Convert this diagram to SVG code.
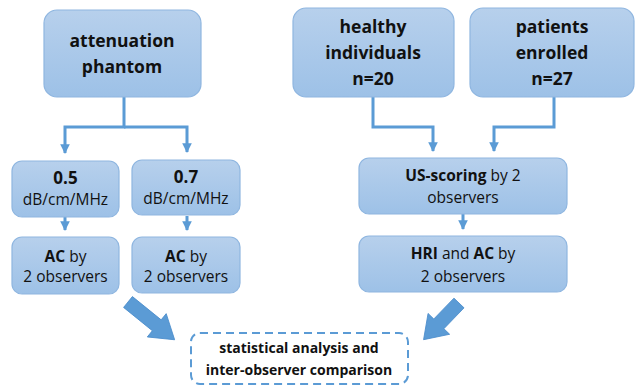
<svg xmlns="http://www.w3.org/2000/svg" width="635" height="386" viewBox="0 0 635 386">
<defs>
<linearGradient id="g" x1="0" y1="0" x2="0" y2="1">
<stop offset="0" stop-color="#b7d0ec"/>
<stop offset="1" stop-color="#9dc1e7"/>
</linearGradient>
<marker id="ah" viewBox="0 0 10 10" refX="9" refY="5" markerWidth="3.2" markerHeight="3.2" orient="auto" markerUnits="strokeWidth">
<path d="M0 0 L10 5 L0 10 Z" fill="#5b9bd5"/>
</marker>
<style>
.box{fill:url(#g);stroke:#8fb6e0;stroke-width:1.2}
.t{font-family:"Open Sans","Liberation Sans",sans-serif;fill:#111;text-anchor:middle}
.b{font-weight:bold}
.big{font-size:17.5px;font-weight:bold}
.s{font-size:15.5px}
.c{fill:none;stroke:#5b9bd5;stroke-width:3}
.blk{fill:#5b9bd5;stroke:#4a8ccb;stroke-width:0.8}
</style>
</defs>
<rect width="635" height="386" fill="#fff"/>
<g id="connectors">
<path class="c" d="M124 97 V127 H65 V153" marker-end="url(#ah)"/>
<path class="c" d="M124 127 H187 V152" marker-end="url(#ah)"/>
<path class="c" d="M65 217 V230" marker-end="url(#ah)"/>
<path class="c" d="M187 216 V230" marker-end="url(#ah)"/>
<path class="c" d="M373 97 V127 H433 V151" marker-end="url(#ah)"/>
<path class="c" d="M554 97 V127 H494 V151" marker-end="url(#ah)"/>
<path class="c" d="M463 214 V229" marker-end="url(#ah)"/>
<polygon class="blk" transform="translate(128 302) rotate(39)" points="0,-7 37,-7 37,-15 60,0 37,15 37,7 0,7"/>
<polygon class="blk" transform="translate(459 303) rotate(134)" points="0,-7 29,-7 29,-15 51,0 29,15 29,7 0,7"/>
</g>
<g id="n-attenuation">
<rect class="box" x="44" y="10" width="157" height="87" rx="13"/>
<text class="t big" x="122" y="47">attenuation</text>
<text class="t big" x="122" y="73">phantom</text>
</g>
<g id="n-healthy">
<rect class="box" x="293" y="8" width="161" height="89" rx="13"/>
<text class="t big" x="373" y="33">healthy</text>
<text class="t big" x="373" y="59">individuals</text>
<text class="t big" x="373" y="85">n=20</text>
</g>
<g id="n-patients">
<rect class="box" x="470" y="8" width="164" height="89" rx="13"/>
<text class="t big" x="552" y="33">patients</text>
<text class="t big" x="552" y="59">enrolled</text>
<text class="t big" x="552" y="85">n=27</text>
</g>
<g id="n-05">
<rect class="box" x="12" y="161" width="107" height="56" rx="10"/>
<text class="t b" x="65.5" y="184" font-size="17">0.5</text>
<text class="t s" x="65.5" y="205">dB/cm/MHz</text>
</g>
<g id="n-07">
<rect class="box" x="132" y="160" width="108" height="55" rx="10"/>
<text class="t b" x="186" y="183" font-size="17">0.7</text>
<text class="t s" x="186" y="204">dB/cm/MHz</text>
</g>
<g id="n-ac1">
<rect class="box" x="12" y="237" width="107" height="57" rx="10"/>
<text class="t s" x="65.5" y="262"><tspan class="b">AC</tspan> by</text>
<text class="t s" x="65.5" y="282">2 observers</text>
</g>
<g id="n-ac2">
<rect class="box" x="132" y="237" width="108" height="56" rx="10"/>
<text class="t s" x="186" y="262"><tspan class="b">AC</tspan> by</text>
<text class="t s" x="186" y="282">2 observers</text>
</g>
<g id="n-us">
<rect class="box" x="359" y="158" width="208" height="56" rx="10"/>
<text class="t s" x="463" y="181" font-size="16"><tspan class="b">US-scoring</tspan> by 2</text>
<text class="t s" x="463" y="203">observers</text>
</g>
<g id="n-hri">
<rect class="box" x="359" y="236" width="208" height="56" rx="10"/>
<text class="t s" x="463" y="259" font-size="16"><tspan class="b">HRI</tspan> and <tspan class="b">AC</tspan> by</text>
<text class="t s" x="463" y="282">2 observers</text>
</g>
<g id="n-stat">
<rect x="191" y="333" width="217" height="51" rx="9" fill="#fff" stroke="#5b9bd5" stroke-width="2" stroke-dasharray="8 5"/>
<text class="t b" x="299" y="353" font-size="14">statistical analysis and</text>
<text class="t b" x="299" y="375" font-size="14">inter-observer comparison</text>
</g>
</svg>
